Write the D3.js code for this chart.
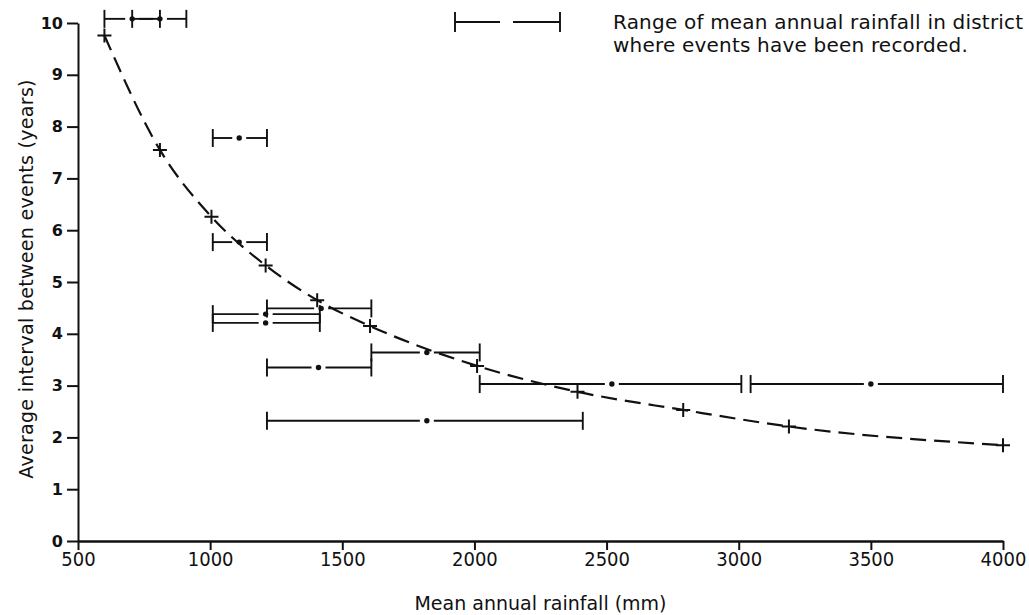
<!DOCTYPE html>
<html>
<head>
<meta charset="utf-8">
<script src="https://cdn.jsdelivr.net/npm/d3@7"></script>
<style>
  body { margin: 0; background: #fff; }
  svg { display: block; }
</style>
</head>
<body>
<script>
// tick labels
const xTicks = [500, 1000, 1500, 2000, 2500, 3000, 3500, 4000];
const yTicks = [0, 1, 2, 3, 4, 5, 6, 7, 8, 9, 10];

// fitted curve, crosses
const curveRain = [600, 810, 1005, 1210, 1405, 1605, 2010, 2390, 2790, 3190, 4000];
const curveYears = [9.76, 7.55, 6.26, 5.32, 4.65, 4.15, 3.38, 2.88, 2.53, 2.21, 1.85];

// district ranges: low, high, mean rainfall and interval
const rangeLow  = [600, 705, 1010, 1010, 1010, 1010, 1215, 1215, 1610, 2020, 3045, 1215];
const rangeHigh = [810, 910, 1215, 1215, 1415, 1415, 1610, 1610, 2020, 3010, 4000, 2410];
const rangeMean = [705, 810, 1110, 1110, 1210, 1210, 1420, 1410, 1820, 2520, 3500, 1820];
const rangeYears = [10.08, 10.08, 7.78, 5.77, 4.38, 4.21, 4.49, 3.35, 3.64, 3.03, 3.03, 2.32];

const W = 1029, H = 615;
const ink = "#111";

const svg = d3.select("body")
    .append("svg")
    .attr("width", W)
    .attr("height", H);

const x = d3.scaleLinear().domain([500, 4000]).range([78, 1003]);
const y = d3.scaleLinear().domain([0, 10]).range([541, 23]);

// axes
const xAxis = svg.append("g")
    .attr("transform", `translate(0, ${y(0)})`)
    .call(d3.axisBottom(x).tickValues(xTicks).tickFormat(d3.format("d"))
        .tickSize(9).tickSizeOuter(0).tickPadding(2));
xAxis.select(".domain").attr("stroke", ink).attr("stroke-width", 2.4);
xAxis.selectAll(".tick line").attr("stroke", ink).attr("stroke-width", 2);
xAxis.selectAll(".tick text")
    .attr("fill", ink)
    .style("font-family", "'DejaVu Sans Condensed', 'Liberation Sans', sans-serif")
    .style("font-size", "20px");

const yAxis = svg.append("g")
    .attr("transform", `translate(${x(500)}, 0)`)
    .call(d3.axisLeft(y).tickValues(yTicks).tickSize(11).tickSizeOuter(0).tickPadding(4));
yAxis.select(".domain").attr("stroke", ink).attr("stroke-width", 2);
yAxis.selectAll(".tick line").attr("stroke", ink).attr("stroke-width", 2);
yAxis.selectAll(".tick text")
    .attr("fill", ink)
    .style("font-family", "'DejaVu Sans', sans-serif")
    .style("font-weight", "bold")
    .style("font-size", "16px");

// axis titles
svg.append("text")
    .attr("x", (x(500) + x(4000)) / 2)
    .attr("y", 610)
    .attr("text-anchor", "middle")
    .attr("fill", ink)
    .style("font-family", "'DejaVu Sans', sans-serif")
    .style("font-size", "19px")
    .text("Mean annual rainfall (mm)");

svg.append("text")
    .attr("transform", "translate(33, 279) rotate(-90)")
    .attr("text-anchor", "middle")
    .attr("fill", ink)
    .style("font-family", "'DejaVu Sans', sans-serif")
    .style("font-size", "19px")
    .style("letter-spacing", "0.3px")
    .text("Average interval between events (years)");

// range bars
const ranges = rangeLow.map((lo, i) => ({lo, hi: rangeHigh[i], mid: rangeMean[i], v: rangeYears[i]}));
const gap = 7, cap = 9;

const rg = svg.append("g").attr("stroke", ink).attr("stroke-width", 1.9).attr("fill", "none");
ranges.forEach(d => {
    const yy = y(d.v);
    rg.append("line").attr("x1", x(d.lo)).attr("x2", x(d.mid) - gap).attr("y1", yy).attr("y2", yy);
    rg.append("line").attr("x1", x(d.mid) + gap).attr("x2", x(d.hi)).attr("y1", yy).attr("y2", yy);
    rg.append("line").attr("x1", x(d.lo)).attr("x2", x(d.lo)).attr("y1", yy - cap).attr("y2", yy + cap);
    rg.append("line").attr("x1", x(d.hi)).attr("x2", x(d.hi)).attr("y1", yy - cap).attr("y2", yy + cap);
});
svg.append("g").selectAll("circle")
    .data(ranges)
    .enter()
    .append("circle")
    .attr("cx", d => x(d.mid))
    .attr("cy", d => y(d.v))
    .attr("r", 2.7)
    .attr("fill", ink);

// dashed curve
const pts = curveRain.map((r, i) => [r, curveYears[i]]);
svg.append("path")
    .datum(pts)
    .attr("d", d3.line().x(d => x(d[0])).y(d => y(d[1])).curve(d3.curveMonotoneX))
    .attr("fill", "none")
    .attr("stroke", ink)
    .attr("stroke-width", 2.2)
    .attr("stroke-dasharray", "16,8");

// crosses
svg.append("g").selectAll("path")
    .data(pts)
    .enter()
    .append("path")
    .attr("d", d => {
        const cx = x(d[0]), cy = y(d[1]);
        return `M${cx - 7},${cy}H${cx + 7}M${cx},${cy - 7}V${cy + 7}`;
    })
    .attr("stroke", ink)
    .attr("stroke-width", 2)
    .attr("fill", "none");

// legend
const lg = svg.append("g").attr("stroke", ink).attr("stroke-width", 1.9);
const ly = 22;
lg.append("line").attr("x1", 455).attr("x2", 500).attr("y1", ly).attr("y2", ly);
lg.append("line").attr("x1", 513).attr("x2", 560).attr("y1", ly).attr("y2", ly);
lg.append("line").attr("x1", 455).attr("x2", 455).attr("y1", ly - 10).attr("y2", ly + 10);
lg.append("line").attr("x1", 560).attr("x2", 560).attr("y1", ly - 10).attr("y2", ly + 10);

const legendText = ["Range of mean annual rainfall in district", "where events have been recorded."];
svg.append("g").selectAll("text")
    .data(legendText)
    .enter()
    .append("text")
    .attr("x", 613)
    .attr("y", (d, i) => 29 + i * 23)
    .attr("fill", ink)
    .style("font-family", "'DejaVu Sans', sans-serif")
    .style("font-size", "20px")
    .style("letter-spacing", "0.2px")
    .text(d => d);
</script>
</body>
</html>
